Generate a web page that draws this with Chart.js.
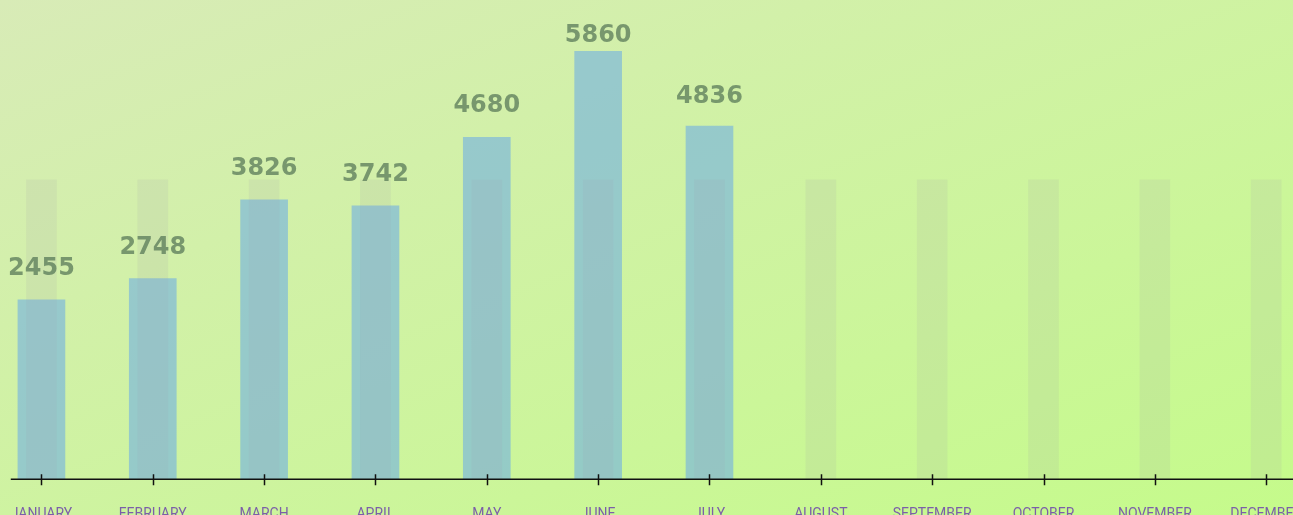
<!DOCTYPE html>
<html>
<head>
<meta charset="utf-8">
<script src="https://cdn.jsdelivr.net/npm/chart.js@4"></script>
<style>
    html, body {
        margin: 0;
        padding: 0;
        width: 1293px;
        height: 515px;
        overflow: hidden;
        background: linear-gradient(to bottom right, #d8ebb7, #c5fb8b);
    }
    #salesChart {
        position: absolute;
        left: -16px;
        top: 0;
    }
</style>
</head>
<body>
<canvas id="salesChart" width="1345" height="550"></canvas>
<script>
const months = ["JANUARY", "FEBRUARY", "MARCH", "APRIL", "MAY", "JUNE", "JULY",
    "AUGUST", "SEPTEMBER", "OCTOBER", "NOVEMBER", "DECEMBER"];
const sales = [2455, 2748, 3826, 3742, 4680, 5860, 4836, null, null, null, null, null];
const target = [4100, 4100, 4100, 4100, 4100, 4100, 4100, 4100, 4100, 4100, 4100, 4100];

// value labels above the real bars (pulled closer on the tallest ones)
const valueLabels = {
    id: "valueLabels",
    afterDatasetsDraw(chart) {
        const ctx = chart.ctx;
        const meta = chart.getDatasetMeta(0);
        const maxV = Math.max(...sales.filter((v) => v !== null));
        ctx.save();
        ctx.font = "bold 24px 'DejaVu Sans'";
        ctx.fillStyle = "rgba(88, 120, 88, 0.74)";
        ctx.textAlign = "center";
        ctx.textBaseline = "alphabetic";
        meta.data.forEach((bar, i) => {
            if (sales[i] === null) return;
            const f = sales[i] / maxV;
            const lift = f > 0.8 ? 25 - 80 * (f - 0.8) : 25;
            ctx.fillText(String(sales[i]), bar.x, bar.y - lift);
        });
        ctx.restore();
    },
};

// baseline with ticks crossing it
const axisLine = {
    id: "axisLine",
    afterDraw(chart) {
        const ctx = chart.ctx;
        const x = chart.scales.x;
        const y0 = chart.scales.y.getPixelForValue(0);
        ctx.save();
        ctx.strokeStyle = "#111";
        ctx.lineWidth = 1.5;
        ctx.beginPath();
        ctx.moveTo(chart.chartArea.left + 25, y0);
        ctx.lineTo(chart.width, y0);
        x.ticks.forEach((t, i) => {
            const px = Math.round(x.getPixelForTick(i)) + 0.5;
            ctx.moveTo(px, y0 - 5);
            ctx.lineTo(px, y0 + 6);
        });
        ctx.stroke();
        ctx.restore();
    },
};

const ctx = document.getElementById("salesChart").getContext("2d");
new Chart(ctx, {
    type: "bar",
    data: {
        labels: months,
        datasets: [
            {
                label: "Sales",
                data: sales,
                backgroundColor: "rgba(120, 180, 222, 0.66)",
                barThickness: 47,
                grouped: false,
                order: 1,
            },
            {
                label: "Target",
                data: target,
                backgroundColor: "rgba(160, 150, 170, 0.12)",
                barThickness: 30,
                grouped: false,
                order: 0,
            },
        ],
    },
    options: {
        responsive: false,
        animation: false,
        layout: { padding: { top: 41, left: 0, right: 0, bottom: 0 } },
        plugins: {
            legend: { display: false },
            tooltip: { enabled: false },
        },
        scales: {
            x: {
                grid: { display: false, drawTicks: false },
                border: { display: false },
                ticks: {
                    padding: 27,
                    color: "#7b5fa8",
                    font: { family: "Roboto", size: 14 },
                    maxRotation: 0,
                    autoSkip: false,
                },
            },
            y: {
                display: false,
                min: 0,
                max: 6000,
            },
        },
    },
    plugins: [valueLabels, axisLine],
});
</script>
</body>
</html>
